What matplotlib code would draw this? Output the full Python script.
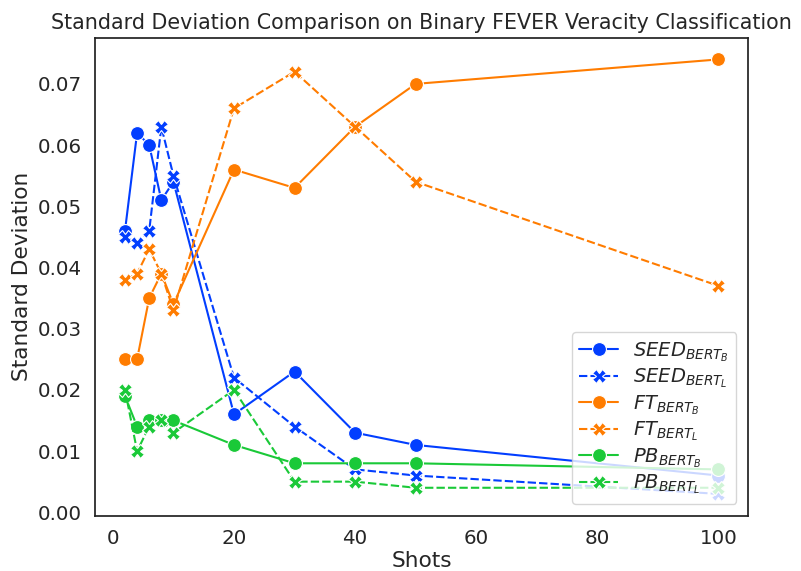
import matplotlib
matplotlib.use("Agg")
import matplotlib.pyplot as plt
import seaborn as sns

shots = [2, 4, 6, 8, 10, 20, 30, 40, 50, 100]

seed_b = [0.046, 0.062, 0.060, 0.051, 0.054, 0.016, 0.023, 0.013, 0.011, 0.006]
seed_l = [0.045, 0.044, 0.046, 0.063, 0.055, 0.022, 0.014, 0.007, 0.006, 0.003]
ft_b = [0.025, 0.025, 0.035, 0.039, 0.034, 0.056, 0.053, 0.063, 0.070, 0.074]
ft_l = [0.038, 0.039, 0.043, 0.039, 0.033, 0.066, 0.072, 0.063, 0.054, 0.037]
pb_b = [0.019, 0.014, 0.015, 0.015, 0.015, 0.011, 0.008, 0.008, 0.008, 0.007]
pb_l = [0.020, 0.010, 0.014, 0.015, 0.013, 0.020, 0.005, 0.005, 0.004, 0.004]

labels = [r"$SEED_{BERT_B}$", r"$SEED_{BERT_L}$",
          r"$FT_{BERT_B}$", r"$FT_{BERT_L}$",
          r"$PB_{BERT_B}$", r"$PB_{BERT_L}$"]

sns.set_theme(style="white", palette="bright", font_scale=1.3)
pal = sns.color_palette("bright")

fig, ax = plt.subplots(figsize=(8.01, 5.71), dpi=100)

series = [seed_b, seed_l, ft_b, ft_l, pb_b, pb_l]
for i, ys in enumerate(series):
    col = pal[i // 2]
    if i % 2 == 0:
        ax.plot(shots, ys, color=col, marker="o", markersize=10, linestyle="-",
                markeredgecolor="white", markeredgewidth=0.8, label=labels[i], lw=1.5)
    else:
        ax.plot(shots, ys, color=col, marker="X", markersize=10, linestyle=(0, (4, 1.5)),
                markeredgecolor="white", markeredgewidth=0.8, label=labels[i], lw=1.5)

ax.set_xlabel("Shots", labelpad=2)
ax.set_ylabel("Standard Deviation")
ax.set_title("Standard Deviation Comparison on Binary FEVER Veracity Classification",
             fontsize=14.85)
ax.legend(loc="lower right", fontsize=14, labelspacing=0.15, borderaxespad=0.6,
          handletextpad=0.75)
for s in ax.spines.values():
    s.set_color("#222222")

fig.subplots_adjust(left=0.119, right=0.934, top=0.934, bottom=0.097)
fig.savefig("out.png", dpi=100)
